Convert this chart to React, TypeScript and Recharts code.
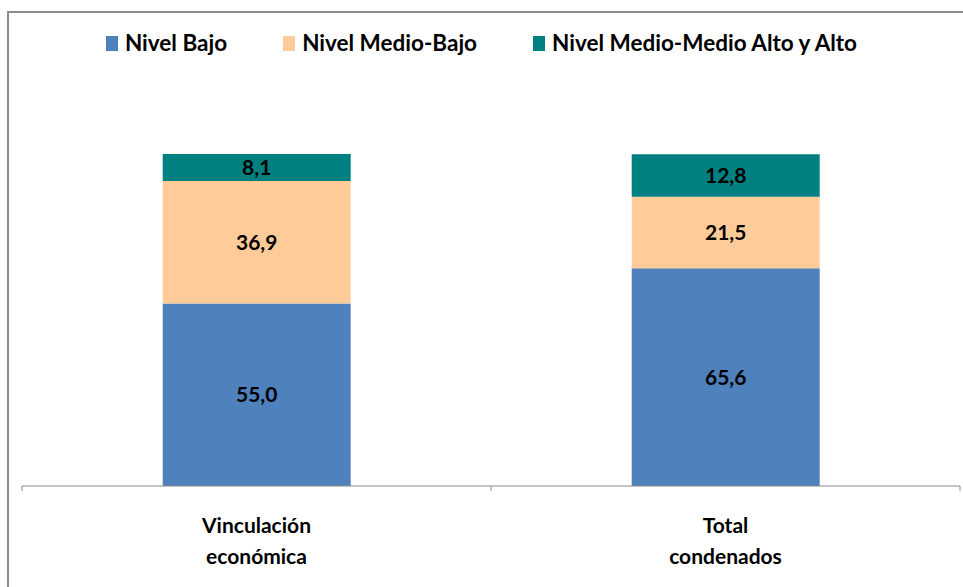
import { BarChart, Bar, XAxis, YAxis, Legend, LabelList } from "recharts"

const categories = ["Vinculación económica", "Total condenados"]
const categoryLines = [
  ["Vinculación", "económica"],
  ["Total", "condenados"],
]
const nivelBajo = [55.0, 65.6]
const nivelMedioBajo = [36.9, 21.5]
const nivelAlto = [8.1, 12.8]

const seriesNames = ["Nivel Bajo", "Nivel Medio-Bajo", "Nivel Medio-Medio Alto y Alto"]
const seriesColors = ["#4F81BD", "#FFCC99", "#008080"]

const data = categories.map((name, i) => ({
  name,
  bajo: nivelBajo[i],
  medioBajo: nivelMedioBajo[i],
  alto: nivelAlto[i],
}))

const FONT = "Lato, 'Open Sans', sans-serif"
const W = 963
const H = 587
const AXIS_H = 30
const M = { top: 154, right: 3, bottom: 101 - AXIS_H, left: 22 }
const band = (W - M.left - M.right) / categories.length

const fmt = (v: any) => Number(v).toFixed(1).replace(".", ",")

function CategoryTick(props: any) {
  const { x, y, payload, index } = props
  const lines = categoryLines[index] ?? [payload.value]
  return (
    <g>
      <line x1={x - band / 2} x2={x - band / 2} y1={y - 8} y2={y - 3} stroke="#8c8c8c" />
      {index === categories.length - 1 && (
        <line x1={x + band / 2} x2={x + band / 2} y1={y - 8} y2={y - 3} stroke="#8c8c8c" />
      )}
      {lines.map((l: string, k: number) => (
        <text
          key={k}
          x={x}
          y={y + 39 + k * 31}
          textAnchor="middle"
          fontFamily={FONT}
          fontWeight="bold"
          fontSize={21}
          fill="#000"
        >
          {l}
        </text>
      ))}
    </g>
  )
}

function LegendContent() {
  return (
    <div style={{ display: "flex", justifyContent: "center", gap: 56, fontFamily: FONT }}>
      {seriesNames.map((n, i) => (
        <div key={n} style={{ display: "flex", alignItems: "center" }}>
          <span
            style={{
              display: "inline-block",
              width: 12,
              height: 15,
              background: seriesColors[i],
              marginRight: 7,
            }}
          />
          <span style={{ fontWeight: "bold", fontSize: 22.5, color: "#000", lineHeight: "26px" }}>{n}</span>
        </div>
      ))}
    </div>
  )
}

export default function App() {
  return (
    <div style={{ position: "absolute", left: 0, top: 0, width: W, height: H, overflow: "hidden", background: "#fff" }}>
      <div
        style={{
          position: "absolute",
          left: 7,
          top: 11,
          width: 1200,
          height: 800,
          border: "2px solid #8c8c8c",
        }}
      />
      <div style={{ position: "absolute", left: 0, top: 0 }}>
        <BarChart width={W} height={H} data={data} margin={M} barCategoryGap="30%">
          <XAxis
            dataKey="name"
            height={AXIS_H}
            axisLine={{ stroke: "#8c8c8c" }}
            tickLine={false}
            tick={<CategoryTick />}
            interval={0}
          />
          <YAxis hide domain={[0, 100]} />
          <Legend
            verticalAlign="top"
            content={<LegendContent />}
            wrapperStyle={{ top: 30, left: 0, width: W, height: 0, overflow: "visible" }}
          />
          <Bar dataKey="bajo" name={seriesNames[0]} stackId="a" fill={seriesColors[0]} isAnimationActive={false}>
            <LabelList dataKey="bajo" position="center" formatter={fmt} fill="#000" fontSize={21} fontWeight="bold" fontFamily={FONT} />
          </Bar>
          <Bar dataKey="medioBajo" name={seriesNames[1]} stackId="a" fill={seriesColors[1]} isAnimationActive={false}>
            <LabelList dataKey="medioBajo" position="center" formatter={fmt} fill="#000" fontSize={21} fontWeight="bold" fontFamily={FONT} />
          </Bar>
          <Bar dataKey="alto" name={seriesNames[2]} stackId="a" fill={seriesColors[2]} isAnimationActive={false}>
            <LabelList dataKey="alto" position="center" formatter={fmt} fill="#000" fontSize={21} fontWeight="bold" fontFamily={FONT} />
          </Bar>
        </BarChart>
      </div>
    </div>
  )
}
